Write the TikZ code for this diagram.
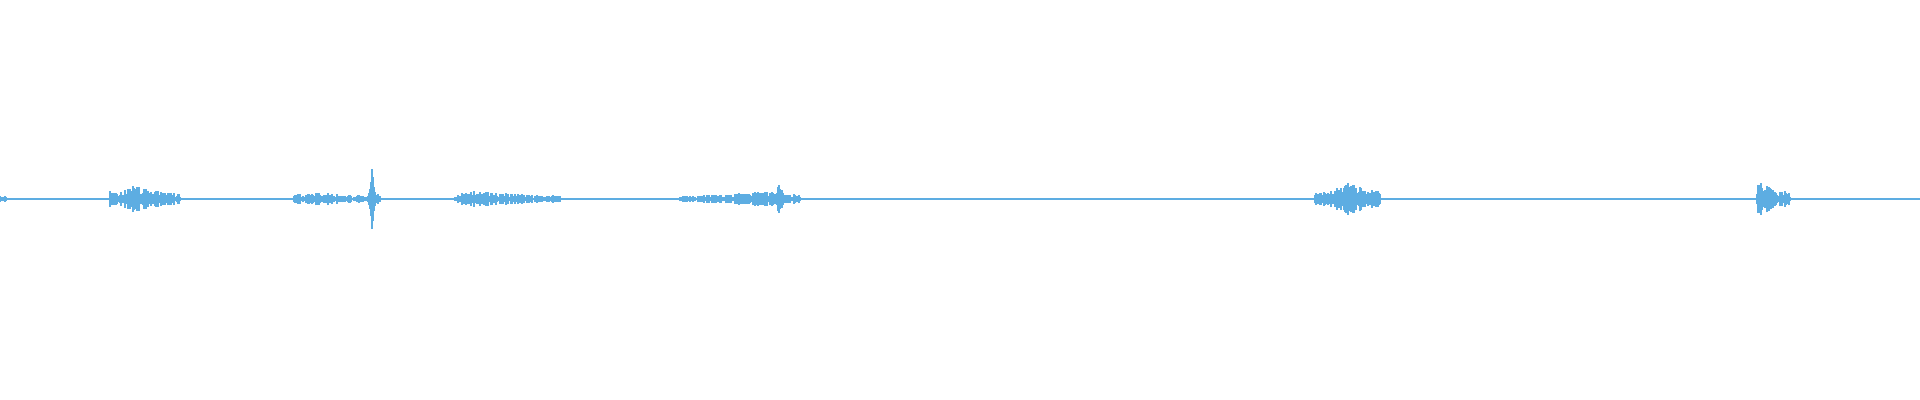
\documentclass[tikz,border=0pt]{standalone}
\usetikzlibrary{positioning}
\definecolor{wave}{HTML}{5DADE2}
\tikzset{
  sample/.style={draw=wave, line width=0.35pt},
  axisline/.style={draw=wave, line width=0.3pt}
}
\begin{document}
\begin{tikzpicture}[x=0.01cm, y=0.01cm]
  \useasboundingbox (0,0) rectangle (1920,400);
  \pgfmathsetseed{7}
  % baseline
  \draw[axisline] (0,201) -- (1920,201);
  % bursts: start/end/amplitude/peak position
  \foreach \s/\e/\a/\p in {0/6/5/2, 110/180/14/135, 293/370/8/320,
      455/560/9/480, 680/800/8/760, 770/790/14/779, 1315/1380/18/1347,
      1757/1790/19/1762}{
    \foreach \x in {\s,...,\e}{
      \pgfmathsetmacro{\env}{0.35+0.65*exp(-abs(\x-\p)/(0.3*(\e-\s)+1))}
      \pgfmathsetmacro{\h}{max(1,\a*\env*(0.25+0.75*rnd))}
      \draw[sample] (\x,201-\h) -- (\x,201+\h);
    }
  }
  % sharp click
  \foreach \x/\h in {369/6, 370/10, 371/17, 372/30, 373/22, 374/12, 375/7, 376/4, 378/5, 380/3}
    \draw[sample] (\x,201-\h) -- (\x,201+\h);
\end{tikzpicture}
\end{document}
